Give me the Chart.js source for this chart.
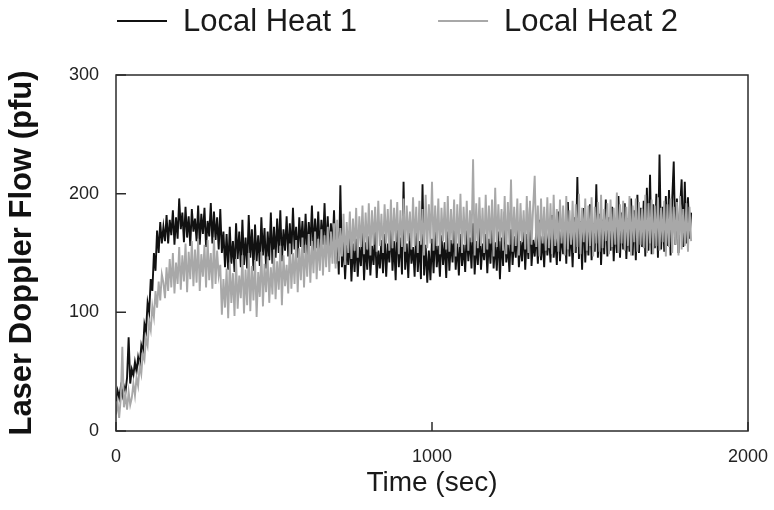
<!DOCTYPE html>
<html>
<head>
<meta charset="utf-8">
<title>Laser Doppler Flow</title>
<script src="https://cdn.jsdelivr.net/npm/chart.js@4.4.0/dist/chart.umd.min.js"></script>
<style>
  html, body { margin: 0; padding: 0; background: #fff; }
  canvas { display: block; }
</style>
</head>
<body>
<canvas id="flow-chart" width="774" height="510"></canvas>
<script>
// one reading every 5 seconds, starting at t = 0
const SAMPLE_SEC = 5;

const seriesLabels = ['Local Heat 1', 'Local Heat 2'];
const xTicks = [0, 1000, 2000];
const yTicks = [0, 100, 200, 300];

// Local Heat 1 (pfu)
const heat1 = [
  25, 34, 28, 37, 30, 38, 33, 45, 79, 40,
  52, 47, 58, 50, 62, 55, 72, 66, 90, 84,
  108, 100, 128, 118, 150, 135, 169, 150, 176, 158,
  172, 160, 182, 158, 178, 165, 186, 157, 180, 162,
  196, 170, 184, 159, 189, 163, 181, 156, 187, 168,
  179, 160, 190, 157, 183, 166, 188, 155, 177, 164,
  192, 158, 185, 161, 180, 153, 187, 150, 168, 138,
  166, 136, 172, 141, 160, 134, 175, 145, 168, 138,
  178, 140, 163, 137, 182, 146, 170, 135, 174, 143,
  165, 139, 180, 148, 171, 137, 168, 144, 184, 141,
  172, 146, 179, 150, 186, 143, 170, 152, 181, 147,
  175, 149, 188, 153, 172, 146, 180, 155, 177, 150,
  183, 148, 176, 156, 190, 151, 179, 154, 185, 149,
  178, 157, 192, 150, 181, 146, 175, 153, 186, 141,
  168, 132, 207, 138, 160, 128, 157, 140, 165, 126,
  158, 134, 162, 130, 155, 139, 170, 127, 159, 136,
  164, 131, 156, 140, 168, 129, 152, 137, 161, 133,
  166, 130, 158, 142, 171, 135, 160, 127, 175, 138,
  163, 132, 210, 136, 158, 129, 167, 141, 155, 130,
  169, 134, 160, 128, 208, 131, 157, 125, 152, 127,
  162, 133, 170, 138, 156, 130, 165, 140, 159, 129,
  168, 135, 161, 142, 172, 136, 158, 131, 166, 139,
  157, 134, 169, 143, 163, 137, 175, 132, 160, 140,
  171, 136, 158, 144, 166, 133, 162, 141, 174, 137,
  159, 135, 168, 128, 163, 139, 185, 142, 157, 134,
  170, 140, 164, 146, 176, 138, 160, 143, 172, 136,
  166, 145, 190, 139, 161, 147, 169, 141, 178, 144,
  164, 138, 173, 148, 167, 142, 182, 146, 162, 140,
  185, 143, 168, 149, 176, 141, 193, 147, 171, 138,
  180, 150, 214, 145, 177, 136, 188, 142, 172, 148,
  191, 144, 175, 151, 208, 146, 183, 140, 178, 149,
  195, 147, 180, 152, 189, 143, 177, 150, 198, 146,
  184, 153, 192, 145, 179, 151, 196, 148, 186, 144,
  199, 150, 188, 155, 194, 147, 205, 152, 216, 149,
  191, 154, 200, 146, 233, 153, 189, 151, 198, 156,
  203, 148, 194, 227, 157, 196, 150, 188, 212, 155,
  210, 158, 197, 162, 184
];

// Local Heat 2 (pfu)
const heat2 = [
  14, 24, 11, 27, 71, 20, 30, 18, 33, 22,
  28, 40, 30, 45, 38, 55, 48, 65, 60, 78,
  72, 92, 85, 105, 96, 118, 104, 126, 110, 132,
  125, 112, 138, 118, 145, 121, 150, 116, 142, 124,
  155, 119, 148, 126, 158, 117, 151, 128, 160, 122,
  153, 125, 162, 118, 149, 130, 157, 121, 161, 127,
  150, 120, 163, 124, 152, 131, 140, 98, 128, 104,
  137, 95, 142, 108, 133, 97, 145, 103, 131, 112,
  148, 99, 136, 106, 150, 101, 139, 110, 144, 96,
  134, 113, 151, 105, 141, 117, 147, 108, 138, 115,
  153, 111, 143, 119, 156, 106, 148, 122, 140, 116,
  158, 120, 150, 124, 161, 117, 154, 127, 163, 121,
  157, 130, 166, 125, 160, 133, 168, 128, 162, 135,
  170, 131, 165, 138, 172, 134, 168, 141, 175, 137,
  178, 143, 171, 147, 183, 140, 176, 150, 185, 145,
  179, 152, 188, 146, 181, 155, 190, 149, 184, 153,
  192, 148, 186, 157, 189, 151, 194, 156, 183, 150,
  191, 158, 187, 152, 195, 154, 188, 159, 193, 149,
  186, 155, 196, 151, 190, 160, 185, 153, 197, 156,
  189, 150, 194, 157, 187, 148, 199, 154, 191, 158,
  210, 152, 190, 156, 196, 149, 188, 160, 193, 153,
  198, 151, 187, 158, 195, 147, 191, 155, 200, 150,
  189, 157, 194, 152, 186, 159, 229, 148, 192, 154,
  197, 156, 188, 150, 199, 153, 190, 158, 195, 147,
  205, 155, 191, 160, 187, 152, 198, 149, 193, 157,
  212, 151, 189, 156, 196, 148, 192, 159, 186, 153,
  198, 150, 194, 157, 188, 215, 155, 190, 147, 196,
  158, 189, 152, 197, 154, 192, 149, 199, 156, 187,
  151, 195, 158, 190, 148, 198, 153, 186, 157, 194,
  150, 191, 155, 200, 149, 188, 159, 196, 152, 190,
  156, 197, 147, 189, 158, 193, 151, 199, 154, 187,
  160, 192, 149, 195, 155, 188, 157, 201, 150, 191,
  158, 194, 152, 189, 156, 198, 148, 190, 159, 196,
  151, 193, 157, 187, 154, 199, 150, 192, 158, 195,
  149, 190, 156, 197, 152, 188, 159, 194, 147, 191,
  155, 196, 150, 189, 157, 193, 148, 198, 153, 187,
  156, 192, 151, 189, 160
];

const FONT = '"Liberation Sans", Arial, Helvetica, sans-serif';

function toPoints(values) {
  return values.map((v, i) => ({ x: i * SAMPLE_SEC, y: v }));
}

// box round the plot with short ticks pointing inwards
const framePlugin = {
  id: 'frame',
  afterDatasetsDraw(chart) {
    const { ctx, chartArea: a, scales } = chart;
    ctx.save();
    ctx.strokeStyle = '#2b2b2b';
    ctx.lineWidth = 1.5;
    ctx.strokeRect(a.left, a.top, a.right - a.left, a.bottom - a.top);
    ctx.beginPath();
    scales.x.ticks.forEach((t) => {
      const px = scales.x.getPixelForValue(t.value);
      ctx.moveTo(px, a.bottom);
      ctx.lineTo(px, a.bottom - 9);
    });
    scales.y.ticks.forEach((t) => {
      const py = scales.y.getPixelForValue(t.value);
      ctx.moveTo(a.left, py);
      ctx.lineTo(a.left + 10, py);
    });
    ctx.stroke();
    ctx.restore();
  },
};

// legend drawn as short line samples in a row above the plot
const lineLegend = {
  id: 'lineLegend',
  afterDraw(chart) {
    const { ctx } = chart;
    ctx.save();
    ctx.font = '31px ' + FONT;
    ctx.textBaseline = 'middle';
    let x = 117;
    chart.data.datasets.forEach((ds) => {
      ctx.strokeStyle = ds.borderColor;
      ctx.lineWidth = 2;
      ctx.beginPath();
      ctx.moveTo(x, 21);
      ctx.lineTo(x + 50, 21);
      ctx.stroke();
      ctx.fillStyle = '#1a1a1a';
      ctx.fillText(ds.label, x + 66, 22);
      x += 66 + ctx.measureText(ds.label).width + 81;
    });
    ctx.restore();
  },
};

const canvas = document.getElementById('flow-chart');

new Chart(canvas, {
  type: 'line',
  data: {
    datasets: [
      {
        label: seriesLabels[0],
        data: toPoints(heat1),
        borderColor: '#111111',
        borderWidth: 1.9,
        pointRadius: 0,
        tension: 0,
        order: 1,
      },
      {
        label: seriesLabels[1],
        data: toPoints(heat2),
        borderColor: '#a8a8a8',
        borderWidth: 1.9,
        pointRadius: 0,
        tension: 0,
        order: 0,
      },
    ],
  },
  options: {
    responsive: false,
    animation: false,
    layout: { padding: { top: 75, right: 26, bottom: 0, left: 0 } },
    plugins: {
      legend: { display: false },
      tooltip: { enabled: false },
    },
    scales: {
      x: {
        type: 'linear',
        min: xTicks[0],
        max: xTicks[xTicks.length - 1],
        afterBuildTicks: (s) => { s.ticks = xTicks.map((v) => ({ value: v })); },
        afterFit: (s) => {
          s.height = 79;
          s.paddingLeft = 0;
          s.paddingRight = 0;
        },
        grid: { display: false, drawTicks: false },
        border: { display: false },
        ticks: {
          font: { family: FONT, size: 18 },
          color: '#222',
          padding: 15,
          maxRotation: 0,
          callback: (v) => String(v),
        },
        title: {
          display: true,
          text: 'Time (sec)',
          font: { family: FONT, size: 28 },
          color: '#1a1a1a',
          padding: { top: 0, bottom: 10 },
        },
      },
      y: {
        min: yTicks[0],
        max: yTicks[yTicks.length - 1],
        afterBuildTicks: (s) => { s.ticks = yTicks.map((v) => ({ value: v })); },
        afterFit: (s) => { s.width = 116; },
        grid: { display: false, drawTicks: false },
        border: { display: false },
        ticks: {
          font: { family: FONT, size: 18 },
          color: '#222',
          padding: 17,
          callback: (v) => String(v),
        },
        title: {
          display: true,
          text: 'Laser Doppler Flow (pfu)',
          font: { family: FONT, size: 31, weight: 'bold' },
          color: '#111',
          padding: { top: 4, bottom: 0 },
        },
      },
    },
  },
  plugins: [framePlugin, lineLegend],
});
</script>
</body>
</html>
